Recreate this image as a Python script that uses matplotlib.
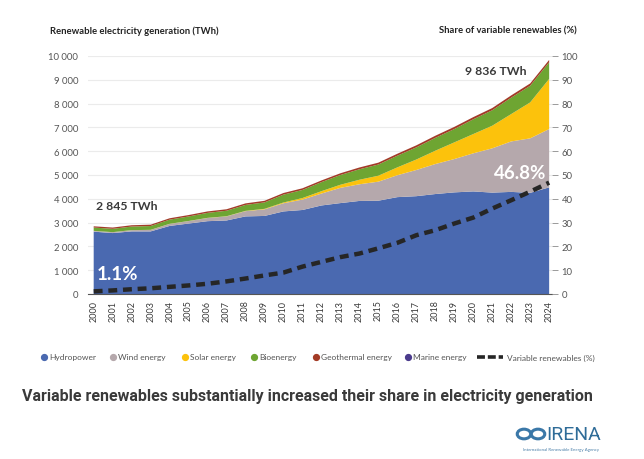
import numpy as np
import matplotlib
matplotlib.use('Agg')
import matplotlib.pyplot as plt
from matplotlib.lines import Line2D
from matplotlib.patches import Circle
from matplotlib.ticker import FuncFormatter, MultipleLocator

years = list(range(2000, 2025))

# TWh
hydro = [2620, 2560, 2630, 2630, 2860, 2960, 3060, 3090, 3260, 3280, 3470, 3530, 3720,
         3820, 3910, 3920, 4070, 4110, 4200, 4270, 4310, 4260, 4290, 4250, 4480]
wind = [31, 38, 52, 63, 85, 104, 133, 170, 220, 277, 342, 437, 500,
        640, 700, 800, 920, 1100, 1260, 1400, 1600, 1860, 2120, 2290, 2450]
solar = [1, 1, 2, 3, 4, 4, 6, 8, 13, 21, 33, 65, 100,
         130, 190, 250, 330, 440, 560, 700, 810, 950, 1150, 1510, 2107]
bio = [140, 140, 150, 160, 175, 190, 210, 230, 250, 270, 330, 340, 380,
       410, 440, 470, 490, 510, 540, 560, 620, 650, 690, 700, 700]
geo = [52, 53, 55, 56, 57, 58, 60, 62, 64, 67, 68, 69, 70,
       72, 75, 78, 82, 85, 88, 90, 90, 92, 94, 96, 98]
marine = [1, 1, 1, 1, 1, 1, 1, 1, 1, 1, 1, 1, 1,
          1, 1, 1, 1, 1, 1, 1, 1, 1, 1, 1, 1]

# share of variable renewables (%)
vre_share = [1.1, 1.5, 2.0, 2.4, 3.0, 3.6, 4.3, 5.3, 6.5, 7.8, 9.0, 11.5, 13.5,
             15.5, 17.0, 19.2, 21.5, 24.7, 26.8, 29.6, 32.1, 35.9, 39.4, 43.0, 46.8]

labels = ["Hydropower", "Wind energy", "Solar energy", "Bioenergy",
          "Geothermal energy", "Marine energy"]
colors = ["#4a69b0", "#b5a8ac", "#fcc20c", "#6ea532", "#a33b26", "#4b3b8c"]

plt.rcParams['font.family'] = ['Lato', 'DejaVu Sans']
TXT = "#3a3a3a"
W, H = 644, 460


def fx(px):
    return px / W


def fy(py):
    return 1 - py / H


fig = plt.figure(figsize=(6.44, 4.60), dpi=100)
ax = fig.add_axes([fx(88), fy(295), 464 / W, 238 / H])

ax.stackplot(years, hydro, wind, solar, bio, geo, marine, colors=colors,
             linewidth=0, zorder=2)

ax.set_xlim(1999.7, 2024.15)
ax.set_ylim(0, 10000)
ax.yaxis.set_major_locator(MultipleLocator(1000))
ax.yaxis.set_major_formatter(FuncFormatter(lambda v, p: f"{int(v):,}".replace(",", " ")))
ax.grid(axis='y', color="#ebebeb", lw=0.8, zorder=0)
ax.set_axisbelow(True)
for s in ['top', 'right', 'left']:
    ax.spines[s].set_visible(False)
ax.spines['bottom'].set_color("#555555")
ax.spines['bottom'].set_linewidth(0.8)
ax.set_xticks(years)
ax.set_xticklabels([str(y) for y in years], rotation=90, fontsize=6.5, color=TXT)
ax.tick_params(axis='x', length=0, pad=4)
ax.tick_params(axis='y', length=0, labelsize=6.8, labelcolor="#555555", pad=7)

ax2 = ax.twinx()
ax2.plot(years, vre_share, color="#262626", lw=3.2, dashes=(2.0, 1.3),
         solid_capstyle='butt', zorder=5)
ax2.set_ylim(0, 100)
ax2.yaxis.set_major_locator(MultipleLocator(10))
for s in ['top', 'left', 'bottom', 'right']:
    ax2.spines[s].set_visible(False)
ax2.tick_params(axis='y', length=4, width=0.7, color="#9a9a9a",
                labelsize=6.8, labelcolor="#555555", pad=3)

# axis titles
fig.text(fx(50), fy(31), "Renewable electricity generation (TWh)",
         fontsize=6.8, fontweight='bold', color="#222222", va='center')
fig.text(fx(577), fy(31), "Share of variable renewables (%)",
         fontsize=6.8, fontweight='bold', color="#222222", va='center', ha='right')

# annotations
total_first = sum(v[0] for v in (hydro, wind, solar, bio, geo, marine))
total_last = sum(v[-1] for v in (hydro, wind, solar, bio, geo, marine))
ax.text(2000.1, 3700, f"{total_first:,} TWh".replace(",", " "), fontsize=8.8,
        fontweight='bold', color=TXT, va='center', ha='left')
ax.text(2022.8, 9370, f"{total_last:,} TWh".replace(",", " "), fontsize=8.8,
        fontweight='bold', color=TXT, va='center', ha='right')
ax2.text(2000.15, 8.8, f"{vre_share[0]}%", fontsize=13.5, fontweight='bold',
         color="white", va='center', ha='left')
ax2.text(2023.85, 51.2, f"{vre_share[-1]}%", fontsize=13.5, fontweight='bold',
         color="white", va='center', ha='right')

# legend, laid out by hand like the original
leg_y = fy(358)
marker_x = [44, 113, 185, 254, 316, 408]
for lab, col, mx in zip(labels, colors, marker_x):
    fig.add_artist(Line2D([fx(mx)], [leg_y], marker='o', ls='none', color=col,
                          markersize=4.2, transform=fig.transFigure))
    fig.text(fx(mx + 5), leg_y, lab, fontsize=6, color="#555555", va='center')
fig.add_artist(Line2D([fx(477), fx(503)], [leg_y, leg_y], color="#262626", lw=2.6,
                      dashes=(2.2, 0.8), transform=fig.transFigure))
fig.text(fx(507), leg_y, "Variable renewables (%)", fontsize=6, color="#555555",
         va='center')

# title, sized to span the same width as in the original
title = fig.text(fx(22), fy(397),
                 "Variable renewables substantially increased their share in electricity generation",
                 fontsize=11.5, fontweight='bold', color=TXT, va='center', ha='left',
                 family=['Roboto', 'DejaVu Sans'])
fig.canvas.draw()
tw = title.get_window_extent().width
title.set_fontsize(11.5 * 573 / tw)

# IRENA logo
logo_blue = "#3b78a8"
for cx in (524, 538):
    fig.patches.append(Circle((fx(cx), fy(435)), 0.0105, transform=fig.transFigure,
                              fill=False, ec=logo_blue, lw=2.2))
fig.text(fx(546), fy(435), "IRENA", fontsize=14, color="#2f6c98",
         va='center', ha='left', family=['Roboto', 'DejaVu Sans'])
fig.text(fx(561), fy(450), "International Renewable Energy Agency",
         fontsize=3.2, color="#4a7fa8", va='center', ha='center')

fig.savefig("out.png", dpi=100)
